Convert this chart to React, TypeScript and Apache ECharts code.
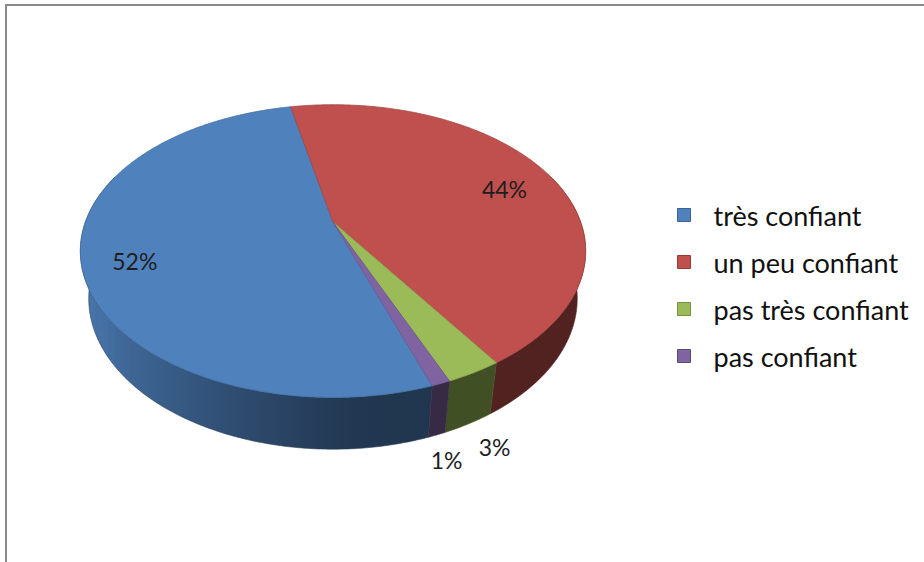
import React, { useEffect, useRef } from "react";
import * as echarts from "echarts";

// ---- data ----
const categories = ["très confiant", "un peu confiant", "pas très confiant", "pas confiant"];
const values = [52, 44, 3, 1];
const colors = ["#4F81BD", "#C0504D", "#9BBB59", "#8064A2"];
const borderColors = ["#3A6496", "#9A3B39", "#76913F", "#5E4A7C"];

// ---- 3D projection settings ----
const CX = 333;
const CY = 222;
const ALPHA = (34.6 * Math.PI) / 180;
const DIST = 4.14;
const FOCAL = 1025;
const DEPTH = 0.24;
const START = 161; // degrees clockwise from 12 o'clock

function project(phiDeg: number, r: number, y: number): number[] {
  const p = (phiDeg * Math.PI) / 180;
  const X = r * Math.sin(p);
  const Z = -r * Math.cos(p);
  const ys = y * Math.cos(ALPHA) - Z * Math.sin(ALPHA);
  const d = DIST - (Z * Math.cos(ALPHA) + y * Math.sin(ALPHA));
  return [CX + (FOCAL * X) / d, CY - (FOCAL * ys) / d];
}

function hexToRgb(h: string): number[] {
  const v = parseInt(h.slice(1), 16);
  return [(v >> 16) & 255, (v >> 8) & 255, v & 255];
}
function shade(h: string, f: number): string {
  const [r, g, b] = hexToRgb(h);
  return `rgb(${Math.round(r * f)},${Math.round(g * f)},${Math.round(b * f)})`;
}
function light(phi: number): number {
  const a = Math.max(0, Math.cos(((phi - 262) * Math.PI) / 180));
  return 0.42 + 0.5 * Math.pow(a, 1.3);
}

const total = values.reduce((s, v) => s + v, 0);
const startAngles: number[] = [];
{
  let acc = START;
  values.forEach((v) => {
    startAngles.push(acc);
    acc += (v / total) * 360;
  });
}

function norm(a: number): number {
  return ((a % 360) + 360) % 360;
}

function labelPositions(): number[][] {
  const pos: number[][] = values.map((v, i) => {
    const a0 = startAngles[i];
    const a1 = a0 + (v / total) * 360;
    const midA = (a0 + a1) / 2;
    const pct = (v / total) * 100;
    return pct >= 10 ? project(midA, 0.8, -0.04) : project(midA, 1.12, -DEPTH);
  });
  // simple overlap avoidance for outside labels
  for (let i = 0; i < pos.length; i++) {
    for (let j = i + 1; j < pos.length; j++) {
      const dx = pos[j][0] - pos[i][0];
      const dy = pos[j][1] - pos[i][1];
      if (Math.abs(dx) < 48 && Math.abs(dy) < 26) {
        const push = (48 - Math.abs(dx)) / 2;
        const s = dx >= 0 ? 1 : -1;
        pos[i][0] -= s * push;
        pos[j][0] += s * push;
      }
    }
  }
  return pos;
}
const labelPos = labelPositions();

function makeRender(i: number) {
  return function renderItem() {
    const a0 = startAngles[i];
    const a1 = a0 + (values[i] / total) * 360;
    const children: any[] = [];
    // visible side wall portion: angles in [70, 290]
    const ranges: number[][] = [];
    for (let a = a0; a < a1; a += 0.5) {
      const b = Math.min(a + 0.5, a1);
      const m = norm((a + b) / 2);
      if (m >= 70 && m <= 290) {
        if (ranges.length && Math.abs(ranges[ranges.length - 1][1] - a) < 1e-6) ranges[ranges.length - 1][1] = b;
        else ranges.push([a, b]);
      }
    }
    ranges.forEach(([w0, w1]) => {
      const top: number[][] = [];
      const bot: number[][] = [];
      const n = Math.max(2, Math.ceil((w1 - w0) / 0.5));
      for (let k = 0; k <= n; k++) {
        const a = w0 + ((w1 - w0) * k) / n;
        top.push(project(a, 1, 0));
        bot.push(project(a, 1, -DEPTH));
      }
      const allX = top.concat(bot).map((p) => p[0]);
      const minX = Math.min(...allX);
      const maxX = Math.max(...allX);
      const stops: any[] = [];
      for (let k = 0; k <= n; k++) {
        const a = w0 + ((w1 - w0) * k) / n;
        const x = top[k][0];
        const off = maxX - minX < 1e-6 ? 0 : (x - minX) / (maxX - minX);
        stops.push({ offset: Math.min(1, Math.max(0, off)), color: shade(colors[i], light(norm(a))) });
      }
      stops.sort((p, q) => p.offset - q.offset);
      children.push({
        type: "polygon",
        z2: 1,
        shape: { points: top.concat(bot.slice().reverse()) },
        style: {
          fill: { type: "linear", x: 0, y: 0, x2: 1, y2: 0, colorStops: stops },
          stroke: shade(colors[i], 0.45),
          lineWidth: 0.6,
          lineJoin: "round",
        },
      });
    });
    // top face
    const pts: number[][] = [project(0, 0, 0)];
    for (let a = a0; a < a1; a += 0.5) pts.push(project(a, 1, 0));
    pts.push(project(a1, 1, 0));
    children.push({
      type: "polygon",
      z2: 10,
      shape: { points: pts },
      style: { fill: colors[i], stroke: shade(colors[i], 0.85), lineWidth: 0.8, lineJoin: "round" },
    });
    // label
    const pct = Math.round((values[i] / total) * 100);
    children.push({
      type: "text",
      z2: 20,
      x: labelPos[i][0],
      y: labelPos[i][1],
      style: {
        text: pct + "%",
        fill: "#1e1e1e",
        fontSize: 23,
        fontFamily: "Lato",
        align: "center",
        verticalAlign: "middle",
      },
    });
    return { type: "group", children };
  };
}

export default function App() {
  const ref = useRef<HTMLDivElement>(null);
  useEffect(() => {
    if (!ref.current) return;
    const chart = echarts.init(ref.current, null, { renderer: "svg" });
    chart.setOption({
      animation: false,
      backgroundColor: "#ffffff",
      graphic: [
        {
          type: "rect",
          shape: { x: 6, y: 5, width: 960, height: 620 },
          style: { fill: "none", stroke: "#8a8a8a", lineWidth: 2 },
          silent: true,
        },
      ],
      legend: {
        orient: "vertical",
        left: 672,
        top: 195,
        selectedMode: false,
        itemWidth: 13,
        itemHeight: 13,
        itemGap: 17,
        icon: "rect",
        textStyle: {
          fontFamily: "Lato",
          fontSize: 27,
          color: "#111",
          lineHeight: 30,
          padding: [0, 0, 0, 18],
        },
        data: categories.map((n, i) => ({
          name: n,
          icon: "rect",
          itemStyle: { color: colors[i], borderColor: borderColors[i], borderWidth: 1 },
        })),
      },
      series: categories.map((name, i) => ({
        type: "custom",
        name,
        coordinateSystem: "none",
        silent: true,
        itemStyle: { color: colors[i] },
        data: [values[i]],
        renderItem: makeRender(i),
      })),
    });
    return () => chart.dispose();
  }, []);
  return (
    <div
      ref={ref}
      style={{ position: "fixed", left: 0, top: 0, width: 924, height: 562 }}
    />
  );
}
